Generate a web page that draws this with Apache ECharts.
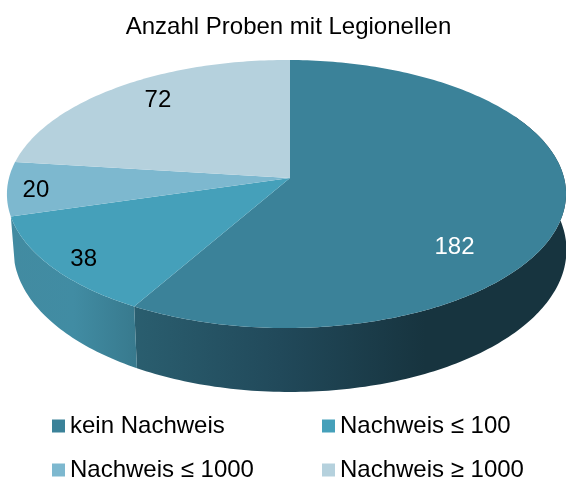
<!DOCTYPE html>
<html><head><meta charset="utf-8">
<style>html,body{margin:0;padding:0;background:#fff}#c{width:566px;height:479px}</style>
<script src="https://cdn.jsdelivr.net/npm/echarts@6/dist/echarts.min.js"></script>
</head><body><div id="c"></div>
<script>
const categories = ['kein Nachweis', 'Nachweis ≤ 100', 'Nachweis ≤ 1000', 'Nachweis ≥ 1000'];
const values = [182, 38, 20, 72];
const topColors = ['#3B8299', '#45A0BA', '#7DB8CF', '#B5D1DD'];
const labelColors = ['#fff', '#000', '#000', '#000'];
// label spots on the flat disc (as placed by hand in the source chart)
const labelAngles = [131, 231, 264.7, 321.6];
const labelRadii = [0.745, 0.885, 0.9, 0.82];

const FONT = '"Liberation Sans", Arial, sans-serif';
const total = values.reduce((a, b) => a + b, 0);
const K = 0.1194;
const topDisc = { cy: 178, a: 277.5, b: 132.1, m: 0.0125 };
const botDisc = { cy: 233, a: 274.5, b: 140, m: 0 };
const CX = 290;
const project = (d, deg, r) => {
  const t = deg * Math.PI / 180, u = Math.sin(t) * r, v = -Math.cos(t) * r, w = 1 - K * v + d.m * u;
  return [CX + d.a * u / w, d.cy + d.b * v / w];
};
const arc = (d, from, to) => {
  const n = Math.max(2, Math.ceil(Math.abs(to - from))), pts = [];
  for (let i = 0; i <= n; i++) pts.push(project(d, from + (to - from) * i / n, 1));
  return pts;
};
const hGrad = (x0, x1, stops) => new echarts.graphic.LinearGradient(x0, 0, x1, 0,
  stops.map(s => ({ offset: s[0], color: s[1] })), true);
const walls = [
  { from: 60, to: null, fill: hGrad(135, 425, [[0, '#2A5E6F'], [0.5, '#21495A'], [1, '#17343F']]) },
  { from: null, to: null, extra: 4.2, fill: hGrad(12, 135, [[0, '#428BA1'], [0.5, '#418CA3'], [1, '#387A8E']]) }
];

function renderSlice(idx) {
  const start = values.slice(0, idx).reduce((a, b) => a + b, 0) / total * 360;
  const end = start + values[idx] / total * 360;
  const children = [];
  const wall = walls[idx];
  if (wall) {
    const a0 = wall.from === null ? start : wall.from;
    const pts = arc(topDisc, a0, end).concat(arc(botDisc, end + (wall.extra || 0), a0));
    children.push({ type: 'polygon', shape: { points: pts }, style: { fill: wall.fill } });
  }
  children.push({
    type: 'polygon',
    shape: { points: [project(topDisc, 0, 0)].concat(arc(topDisc, start, end)) },
    style: { fill: topColors[idx] }
  });
  const p = project(topDisc, labelAngles[idx], labelRadii[idx]);
  children.push({
    type: 'text', z2: 10, x: p[0], y: p[1] + 1.5,
    style: { text: String(values[idx]), fill: labelColors[idx], font: '24px ' + FONT, align: 'center', verticalAlign: 'middle' }
  });
  return { type: 'group', children };
}

const legendLeft = [52, 322, 52, 322];
const legendTop = [414, 414, 458, 458];
const chart = echarts.init(document.getElementById('c'), null, { renderer: 'canvas' });
chart.setOption({
  animation: false,
  backgroundColor: '#fff',
  title: {
    text: 'Anzahl Proben mit Legionellen', left: 283.5, top: 10, textAlign: 'center',
    textStyle: { fontFamily: FONT, fontSize: 24, fontWeight: 'normal', color: '#000' }
  },
  legend: categories.map((name, i) => ({
    data: [{ name, itemStyle: { color: topColors[i] } }],
    left: legendLeft[i], top: legendTop[i], padding: 0,
    icon: 'rect', itemWidth: 13, itemHeight: 13, selectedMode: false,
    textStyle: { fontFamily: FONT, fontSize: 24, color: '#000' }
  })),
  series: categories.map((name, i) => ({
    type: 'custom', name, coordinateSystem: 'none', silent: true, clip: false,
    itemStyle: { color: topColors[i] },
    data: [[values[i]]],
    renderItem: () => renderSlice(i)
  }))
});
</script></body></html>
